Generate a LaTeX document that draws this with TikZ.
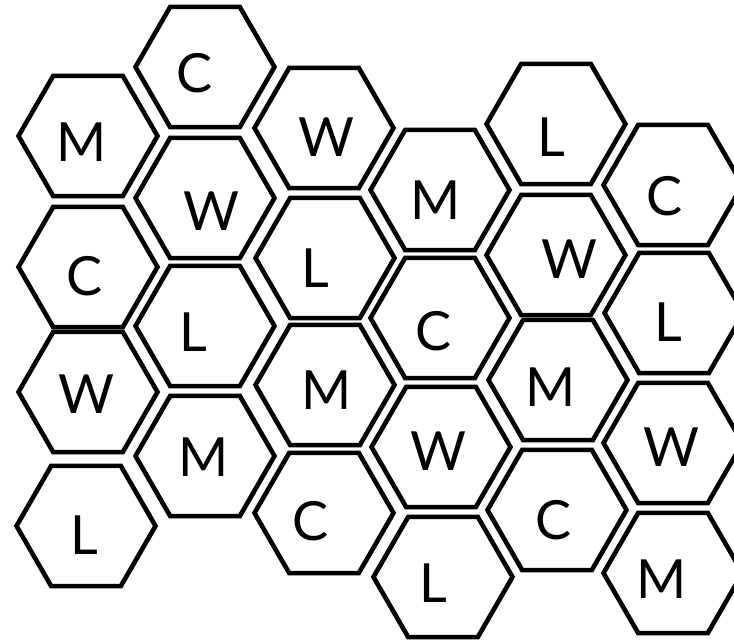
\documentclass[tikz,border=0pt]{standalone}
\usepackage{fontspec}
\setmainfont{Lato}
\usepackage{tikz}
\usetikzlibrary{shapes.geometric}

\begin{document}
\begin{tikzpicture}[
  x=1pt, y=-1pt,
  cell/.style={draw, line width=4.6pt, regular polygon, regular polygon sides=6, minimum size=139pt, inner sep=0pt, outer sep=0pt},
  glyph/.style={font=\fontsize{54}{54}\selectfont, inner sep=0pt}
]
\useasboundingbox (0,0) rectangle (734,640);
\clip (0,0) rectangle (734,640);

% first column
\node[cell] (c1r1) at (88,136) {};  \node[glyph] (t1r1) at (82,142) {M};
\node[cell] (c1r2) at (88,267) {};  \node[glyph] (t1r2) at (85,276) {C};
\node[cell] (c1r3) at (88,392) {};  \node[glyph] (t1r3) at (86,394) {W};
\node[cell] (c1r4) at (86,526) {};  \node[glyph] (t1r4) at (84,535) {L};
% second column
\node[cell] (c2r1) at (205,67) {};  \node[glyph] (t2r1) at (195,73) {C};
\node[cell] (c2r2) at (205,198) {}; \node[glyph] (t2r2) at (211,211) {W};
\node[cell] (c2r3) at (205,326) {}; \node[glyph] (t2r3) at (193,332) {L};
\node[cell] (c2r4) at (205,456) {}; \node[glyph] (t2r4) at (204,457) {M};
% third column
\node[cell] (c3r1) at (324,128) {}; \node[glyph] (t3r1) at (326,137) {W};
\node[cell] (c3r2) at (325,258) {}; \node[glyph] (t3r2) at (315,268) {L};
\node[cell] (c3r3) at (325,385) {}; \node[glyph] (t3r3) at (327,390) {M};
\node[cell] (c3r4) at (324,513) {}; \node[glyph] (t3r4) at (311,521) {C};
% fourth column
\node[cell] (c4r1) at (440,190) {}; \node[glyph] (t4r1) at (436,200) {M};
\node[cell] (c4r2) at (440,318) {}; \node[glyph] (t4r2) at (434,331) {C};
\node[cell] (c4r3) at (441,447) {}; \node[glyph] (t4r3) at (438,451) {W};
\node[cell] (c4r4) at (443,577) {}; \node[glyph] (t4r4) at (433,583) {L};
% fifth column
\node[cell] (c5r1) at (556,124) {}; \node[glyph] (t5r1) at (551,137) {L};
\node[cell] (c5r2) at (556,255) {}; \node[glyph] (t5r2) at (569,259) {W};
\node[cell] (c5r3) at (558,380) {}; \node[glyph] (t5r3) at (551,387) {M};
\node[cell] (c5r4) at (557,510) {}; \node[glyph] (t5r4) at (554,520) {C};
% sixth column, cut by the right edge
\node[cell] (c6r1) at (673,185) {}; \node[glyph] (t6r1) at (665,196) {C};
\node[cell] (c6r2) at (674,313) {}; \node[glyph] (t6r2) at (668,322) {L};
\node[cell] (c6r3) at (673,443) {}; \node[glyph] (t6r3) at (671,447) {W};
\node[cell] (c6r4) at (673,573) {}; \node[glyph] (t6r4) at (662,579) {M};
\end{tikzpicture}
\end{document}
